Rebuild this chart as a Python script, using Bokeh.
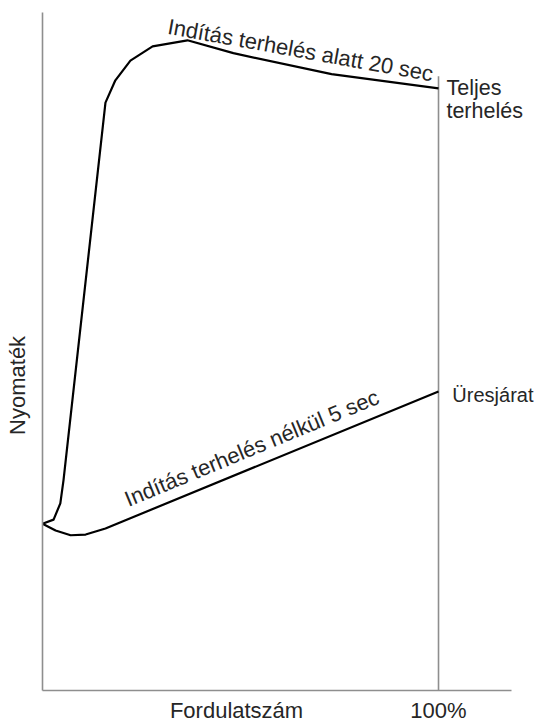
from bokeh.plotting import figure
from bokeh.models import Range1d, FixedTicker, LinearAxis
from bokeh.core.properties import value
from bokeh.embed import file_html
from bokeh.resources import INLINE

# ---- data (speed in % of nominal, torque in arbitrary units) ----
full_load_x = [0, 2.8, 4.5, 5.3, 15.9, 18.4, 22.2, 27.8, 36.6, 48.2, 73.0, 100]
full_load_y = [24.6, 25.2, 27.6, 31.0, 86.7, 90.0, 92.9, 95.0, 95.9, 94.0, 90.9, 88.8]

no_load_x = [0, 3.3, 7.1, 10.9, 15.9, 100]
no_load_y = [24.6, 23.6, 22.9, 23.0, 23.9, 44.1]

nominal_x = [100, 100]
nominal_y = [0, 90.6]

# bottom axis: title position and the 100 % mark
x_ticks = [49, 100]
x_tick_labels = {49: "Fordulatszám", 100: "100%"}
# left axis: title position
y_ticks = [45]
y_tick_labels = {45: "Nyomaték"}

full_label = "Indítás terhelés alatt 20 sec"
no_label = "Indítás terhelés nélkül 5 sec"
full_end_lines = ["Teljes", "terhelés"]
no_end_label = "Üresjárat"

FONT = "Liberation Sans"
TXT = "#262626"
AX = "#8e8e8e"

p = figure(frame_width=500, frame_height=690, output_backend="svg", toolbar_location=None,
           x_range=Range1d(0, 126.26), y_range=Range1d(0, 101.77),
           min_border_left=42, min_border_right=0, min_border_top=0, min_border_bottom=32)
p.outline_line_color = None
p.grid.visible = False
p.background_fill_color = "white"
p.border_fill_color = "white"


def bare(axis):
    axis.major_tick_line_color = None
    axis.minor_tick_line_color = None
    axis.major_tick_out = 0
    axis.major_tick_in = 0
    axis.minor_tick_out = 0
    axis.minor_tick_in = 0


xa = p.xaxis[0]
bare(xa)
xa.ticker = FixedTicker(ticks=x_ticks)
xa.major_label_overrides = x_tick_labels
xa.bounds = (0, 118.4)
xa.axis_line_color = AX
xa.axis_line_width = 1.6
xa.major_label_standoff = 7
xa.major_label_text_font = FONT
xa.major_label_text_font_size = "22px"
xa.major_label_text_color = TXT

ya = p.yaxis[0]
bare(ya)
ya.ticker = FixedTicker(ticks=[])
ya.bounds = (0, 100)
ya.axis_line_color = AX
ya.axis_line_width = 1.6
ya.major_label_standoff = 0
ya.major_label_text_font_size = "0px"

# y title carried by a second, line-less left axis
yt = LinearAxis(ticker=FixedTicker(ticks=y_ticks), major_label_overrides=y_tick_labels,
                axis_line_color=None, major_label_orientation="vertical",
                major_label_standoff=12, major_label_text_font=FONT,
                major_label_text_font_size="22px", major_label_text_color=TXT)
bare(yt)
p.add_layout(yt, "left")

# nominal speed line
p.line(nominal_x, nominal_y, line_color=AX, line_width=1.6)

# curves
p.line(full_load_x, full_load_y, line_color="black", line_width=2.2, line_join="round")
p.line(no_load_x, no_load_y, line_color="black", line_width=2.2, line_join="round")

# curve labels
p.text(x=[31.7], y=[97.96], text=[full_label], angle=[-10.2], angle_units="deg",
       text_font=value(FONT), text_font_size=value("22px"), text_color=TXT,
       text_align="left", text_baseline="alphabetic")
p.text(x=[21.0], y=[28.1], text=[no_label], angle=[22.4], angle_units="deg",
       text_font=value(FONT), text_font_size=value("22px"), text_color=TXT,
       text_align="left", text_baseline="alphabetic")

p.text(x=[102.0, 102.0], y=[88.8, 85.4], text=full_end_lines,
       text_font=value(FONT), text_font_size=value("21.5px"), text_color=TXT,
       text_align="left", text_baseline="alphabetic")
p.text(x=[103.5], y=[43.65], text=[no_end_label],
       text_font=value(FONT), text_font_size=value("20px"), text_color=TXT,
       text_align="left", text_baseline="alphabetic")

open("out.html", "w").write(file_html(p, INLINE))
